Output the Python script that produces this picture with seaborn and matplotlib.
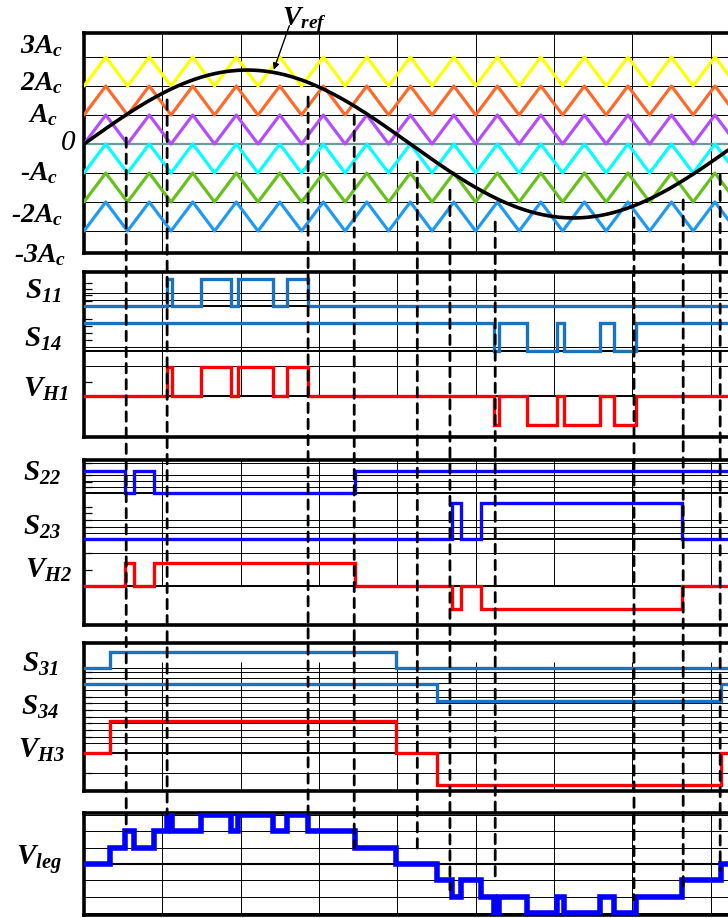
import numpy as np
import pandas as pd
import seaborn as sns
import matplotlib.pyplot as plt
from matplotlib.patches import ConnectionPatch

# ---- data (time in carrier periods) ----
t_end = 14.8
carrier_offsets = [2, 1, 0, -1, -2, -3]
carrier_colors = ['#ffff00', '#ff6a2a', '#b44cff', '#00ffff', '#66c21a', '#1e9af5']
carrier_period = 1.0
ref_amplitude = 2.55
ref_period = 15.0

level_values = [3, 2, 1, 0, -1, -2, -3]
level_labels = ['3$A_c$', '2$A_c$', '$A_c$', '0', '-$A_c$', '-2$A_c$', '-3$A_c$']

# H-bridge output voltages: switching instants and levels
vh1_t = [0, 1.91, 2.02, 2.69, 3.38, 3.54, 4.35, 4.67, 5.15,
         9.43, 9.54, 10.18, 10.87, 11.03, 11.86, 12.18, 12.69]
vh1_v = [0, 1, 0, 1, 0, 1, 0, 1, 0, -1, 0, -1, 0, -1, 0, -1, 0]
vh2_t = [0, 0.94, 1.15, 1.61, 6.23, 8.45, 8.66, 9.12, 13.74]
vh2_v = [0, 1, 0, 1, 0, -1, 0, -1, 0]
vh3_t = [0, 0.60, 7.17, 8.11, 14.64]
vh3_v = [0, 1, 0, -1, 0]

# dashed markers: time, start on top panel, end on V_leg panel
dash_t = [0.97, 1.91, 5.15, 6.21, 7.66, 8.41, 9.45, 12.64, 13.77, 14.62]
dash_top = [0.21, 1.52, 1.62, 1.0, -0.62, -1.59, -2.69, -2.55, -1.93, -1.07]
dash_bottom = [2.0, 3.0, 3.0, 1.0, 0.7, -1.6, -1.1, -2.2, -1.6, -0.4]

grid_step = 1.8


def level_at(t_list, v_list, times):
    idx = np.searchsorted(t_list, times, side='right') - 1
    return np.array(v_list)[idx]


def steps(t, v, base=0.0, amp=1.0):
    tt = list(t) + [t_end]
    vv = list(v) + [v[-1]]
    return pd.DataFrame({'t': tt, 'y': base + amp * np.array(vv, dtype=float)})


def step_plot(ax, t, v, color, lw, base=0.0, amp=1.0):
    sns.lineplot(data=steps(t, v, base, amp), x='t', y='y', ax=ax, color=color,
                 lw=lw, drawstyle='steps-post', estimator=None, sort=False,
                 solid_joinstyle='miter', zorder=5)


sns.set_theme(style='white')
plt.rcParams['mathtext.fontset'] = 'custom'
plt.rcParams['mathtext.rm'] = 'Liberation Serif:bold:italic'
plt.rcParams['mathtext.it'] = 'Liberation Serif:bold:italic'
plt.rcParams['mathtext.bf'] = 'Liberation Serif:bold:italic'
lab_font = dict(family='Liberation Serif', weight='bold', style='italic')

W, H = 728, 918
fig = plt.figure(figsize=(W / 100, H / 100), dpi=100)


def add_panel(top, bottom, zero, unit):
    ax = fig.add_axes([84 / W, 1 - bottom / H, 1 - 84 / W, (bottom - top) / H])
    ax.set_xlim(0, t_end)
    ax.set_ylim(-(bottom - zero) / unit, (zero - top) / unit)
    for s in ['left', 'top', 'bottom']:
        ax.spines[s].set_linewidth(2.6)
        ax.spines[s].set_color('black')
    ax.spines['right'].set_visible(False)
    ax.set_xticks([])
    return ax


grid_t = np.arange(grid_step, t_end, grid_step)
thin = dict(color='black', lw=0.7, zorder=1)

# ---- panel 1: carriers and reference ----
ax1 = add_panel(33, 253, 144, 29)
ax1.set_yticks([])
for lv in level_values:
    if lv != 0:
        ax1.axhline(lv, **thin)
ax1.vlines(grid_t, -4, 4, **thin)
ax1.axhline(0, color='#6a9c9c', lw=1.6, zorder=2)
n_half = int(np.ceil(t_end / (carrier_period / 2))) + 1
car_t = np.arange(n_half) * carrier_period / 2
car_shape = np.arange(n_half) % 2
for off, col in zip(carrier_offsets, carrier_colors):
    df = pd.DataFrame({'t': car_t, 'y': off + car_shape})
    sns.lineplot(data=df, x='t', y='y', ax=ax1, color=col, lw=2.3,
                 estimator=None, sort=False, zorder=3)
ref_t = np.linspace(0, t_end, 600)
ref_df = pd.DataFrame({'t': ref_t, 'y': ref_amplitude * np.sin(2 * np.pi * ref_t / ref_period)})
sns.lineplot(data=ref_df, x='t', y='y', ax=ax1, color='black', lw=2.6,
             estimator=None, sort=False, zorder=4)
arrow_t = 4.34
ax1.annotate('', xy=(arrow_t, ref_amplitude * np.sin(2 * np.pi * arrow_t / ref_period)),
             xytext=(4.74, 4.17), annotation_clip=False,
             arrowprops=dict(arrowstyle='-|>', color='black', lw=1.0, mutation_scale=9))

# ---- panel 2: cell 1 ----
vh1 = np.array(vh1_v)
ax2 = add_panel(272, 437, 396, 29)
for y in [3.55, 3.31, 1.69, 1.03]:
    ax2.axhline(y, **thin)
for y in [3.10, 1.55, 0.0]:
    ax2.axhline(y, color='black', lw=1.4, zorder=1)
ax2.vlines(grid_t, 0, 4.3, **thin)
ax2.set_yticks([3.90, 3.69, 3.48, 3.28, 2.66, 2.41, 2.17, 1.93, 0.48])
step_plot(ax2, vh1_t, (vh1 > 0).astype(int), '#1a73c0', 2.4, base=3.10, amp=0.93)
step_plot(ax2, vh1_t, 1 - (vh1 < 0).astype(int), '#1a73c0', 2.4, base=1.55, amp=0.97)
step_plot(ax2, vh1_t, vh1, '#ff0000', 2.4)

# ---- panel 3: cell 2 ----
vh2 = np.array(vh2_v)
ax3 = add_panel(460, 625, 586, 23)
for y in [5.35, 4.83, 4.57, 4.30, 2.87, 2.57, 2.30, 1.43]:
    ax3.axhline(y, **thin)
for y in [4.04, 2.04, 0.0]:
    ax3.axhline(y, color='black', lw=1.4, zorder=1)
ax3.vlines(grid_t, 0, 5.5, **thin)
ax3.set_yticks([5.35, 4.83, 4.52, 4.30, 3.43, 3.17, 2.87, 2.57, 1.43, 0.70])
step_plot(ax3, vh2_t, 1 - (vh2 > 0).astype(int), '#0a0aff', 2.4, base=4.04, amp=0.96)
step_plot(ax3, vh2_t, (vh2 < 0).astype(int), '#0a0aff', 2.4, base=2.04, amp=1.56)
step_plot(ax3, vh2_t, vh2, '#ff0000', 2.4)

# ---- panel 4: cell 3 ----
vh3 = np.array(vh3_v)
ax4 = add_panel(643, 791, 753, 32)
for y in [2.66, 2.53, 2.34, 2.19, 1.97, 1.75, 1.56, 1.34, 1.13, 0.94, 0.72, 0.5, 0.31, -0.63]:
    ax4.axhline(y, **thin)
ax4.axhline(0, color='black', lw=1.4, zorder=1)
ax4.vlines(grid_t, -1.2, 2.84, **thin)
ax4.set_yticks([2.66, 2.53, 2.34, 1.75, 1.56, 1.34, 1.13, 0.94, 0.72, 0.5, -0.63])
step_plot(ax4, vh3_t, (vh3 > 0).astype(int), '#1a73c0', 2.4, base=2.66, amp=0.50)
step_plot(ax4, vh3_t, 1 - (vh3 < 0).astype(int), '#1a73c0', 2.4, base=1.63, amp=0.53)
step_plot(ax4, vh3_t, vh3, '#ff0000', 2.4)

for ax in [ax2, ax3, ax4]:
    ax.tick_params(axis='y', direction='in', length=6, width=0.9, left=True,
                   labelleft=False, color='black')

# ---- panel 5: leg voltage ----
ax5 = add_panel(813, 915, 864, 16.3)
ax5.set_yticks([])
for y in [3, 2, 1, -1, -2, -3]:
    ax5.axhline(y, **thin)
ax5.axhline(0, color='black', lw=1.5, zorder=1)
ax5.vlines(grid_t, -4, 4, **thin)
vleg_t = sorted(set(vh1_t + vh2_t + vh3_t))
vleg_v = (level_at(vh1_t, vh1_v, vleg_t) + level_at(vh2_t, vh2_v, vleg_t)
          + level_at(vh3_t, vh3_v, vleg_t))
step_plot(ax5, vleg_t, list(vleg_v), '#0000ff', 4.0)

for ax in [ax1, ax2, ax3, ax4, ax5]:
    ax.set_xlabel('')
    ax.set_ylabel('')

# ---- dashed switching markers ----
for t, y0, y1 in zip(dash_t, dash_top, dash_bottom):
    con = ConnectionPatch(xyA=(t, y0), coordsA=ax1.transData,
                          xyB=(t, y1), coordsB=ax5.transData,
                          color='black', lw=2.0, linestyle=(0, (3.4, 2.4)), zorder=10)
    fig.add_artist(con)


# ---- labels ----
def fig_label(x, y, s, size, **kw):
    fig.text(x / W, 1 - y / H, s, ha='right', va='baseline', fontsize=size,
             color='black', **kw)


level_pos = [(63, 53), (63, 90), (58, 122), (76, 150), (58, 180), (63, 222), (66, 262)]
for (x, y), s in zip(level_pos, level_labels):
    if s == '0':
        fig_label(x, y, s, 21, family='Liberation Serif', style='italic')
    else:
        fig_label(x, y, s, 20, **lab_font)

sig_labels = [('$S_{11}$', 62, 299), ('$S_{14}$', 62, 347), ('$V_{H1}$', 68, 397),
              ('$S_{22}$', 61, 481), ('$S_{23}$', 61, 535), ('$V_{H2}$', 72, 578),
              ('$S_{31}$', 59, 672), ('$S_{34}$', 59, 715), ('$V_{H3}$', 65, 758),
              ('$V_{leg}$', 62, 865)]
for s, x, y in sig_labels:
    fig_label(x, y, s, 21)

fig.text(282 / W, 1 - 25 / H, '$V_{ref}$', ha='left', va='baseline', fontsize=20, color='black')

fig.savefig('out.png', dpi=100)
